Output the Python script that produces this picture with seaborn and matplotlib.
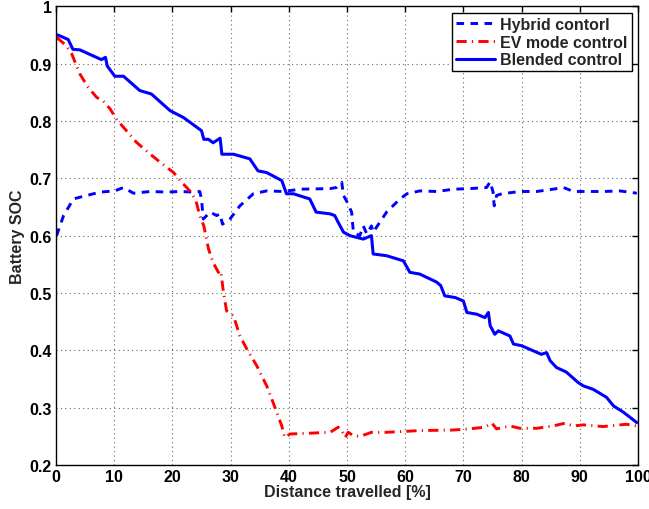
import numpy as np
import pandas as pd
import matplotlib
matplotlib.use("Agg")
import matplotlib.pyplot as plt
import seaborn as sns

# Blended control (solid blue)
blended_x = [0.3, 2.1, 2.9, 4.1, 7.8, 8.5, 8.8, 10.1, 11.6, 14.4, 16.4, 19.6, 21.9, 24.2,
             25.0, 25.4, 26.2, 27.0, 28.2, 28.5, 30.5, 33.3, 34.7, 36.2, 38.8, 39.6, 40.8,
             43.6, 44.7, 47.1, 47.9, 48.5, 49.4, 50.5, 52.8, 54.2, 54.5, 56.8, 59.7, 60.8,
             62.5, 65.4, 66.1, 66.8, 68.6, 70.0, 70.6, 72.3, 73.7, 74.3, 74.6, 75.4, 76.0,
             78.0, 78.6, 80.0, 83.4, 84.3, 84.9, 86.0, 87.7, 89.7, 90.6, 92.3, 94.6, 95.8,
             97.5, 99.8]
blended_y = [0.950, 0.942, 0.925, 0.924, 0.907, 0.911, 0.896, 0.878, 0.878, 0.853, 0.847,
             0.818, 0.806, 0.789, 0.783, 0.768, 0.768, 0.762, 0.770, 0.742, 0.742, 0.734,
             0.713, 0.710, 0.696, 0.673, 0.673, 0.664, 0.641, 0.638, 0.635, 0.623, 0.606,
             0.600, 0.594, 0.600, 0.568, 0.565, 0.556, 0.536, 0.533, 0.519, 0.513, 0.495,
             0.492, 0.486, 0.466, 0.463, 0.457, 0.466, 0.443, 0.428, 0.434, 0.425, 0.411,
             0.408, 0.393, 0.396, 0.382, 0.370, 0.362, 0.344, 0.338, 0.332, 0.318, 0.303,
             0.292, 0.274]

# Hybrid control (dashed blue)
hybrid_x = [0.1, 1.3, 3.0, 4.1, 7.6, 10.1, 11.6, 13.3, 16.2, 19.0, 21.3, 23.6, 24.7, 25.0,
            25.3, 26.5, 27.6, 28.2, 28.6, 29.9, 31.6, 33.9, 36.2, 39.1, 41.9, 47.1, 48.2,
            49.1, 49.4, 49.9, 50.8, 51.1, 52.2, 52.8, 53.4, 54.2, 54.5, 56.8, 59.1, 60.3,
            62.5, 65.4, 68.3, 71.1, 74.0, 74.6, 75.1, 75.3, 75.7, 76.6, 79.7, 82.6, 85.4,
            87.2, 88.9, 91.2, 94.0, 96.9, 99.8]
hybrid_y = [0.600, 0.635, 0.664, 0.667, 0.676, 0.678, 0.684, 0.674, 0.677, 0.676, 0.677,
            0.676, 0.677, 0.664, 0.629, 0.641, 0.635, 0.638, 0.620, 0.629, 0.652, 0.673,
            0.678, 0.677, 0.681, 0.682, 0.684, 0.693, 0.670, 0.661, 0.641, 0.606, 0.600,
            0.617, 0.603, 0.617, 0.606, 0.641, 0.664, 0.673, 0.678, 0.677, 0.681, 0.682,
            0.684, 0.694, 0.676, 0.652, 0.670, 0.673, 0.677, 0.677, 0.681, 0.684, 0.677,
            0.677, 0.677, 0.678, 0.674]

# EV mode control (dash-dot red)
ev_x = [0.1, 1.8, 2.7, 4.1, 5.5, 7.0, 8.1, 9.3, 10.4, 12.1, 13.8, 16.2, 17.9, 20.2, 21.6,
        23.0, 23.9, 24.2, 24.7, 25.4, 26.2, 27.0, 27.9, 28.3, 28.7, 29.3, 30.5, 31.6,
        32.8, 34.5, 36.2, 37.3, 38.8, 39.3, 40.2, 44.8, 47.1, 48.5, 49.1, 49.7, 50.2,
        51.1, 52.2, 53.4, 54.2, 56.8, 62.5, 68.3, 71.1, 73.7, 74.9, 75.7, 78.0, 79.7,
        82.6, 85.4, 87.5, 88.9, 90.6, 94.0, 98.0, 99.8]
ev_y = [0.946, 0.931, 0.917, 0.882, 0.859, 0.841, 0.835, 0.821, 0.803, 0.783, 0.763, 0.742,
        0.728, 0.710, 0.693, 0.678, 0.664, 0.655, 0.635, 0.617, 0.577, 0.553, 0.536, 0.539,
        0.507, 0.469, 0.460, 0.425, 0.402, 0.373, 0.338, 0.309, 0.268, 0.248, 0.254, 0.256,
        0.257, 0.266, 0.260, 0.248, 0.257, 0.251, 0.250, 0.254, 0.257, 0.257, 0.260, 0.261,
        0.263, 0.266, 0.273, 0.263, 0.268, 0.264, 0.264, 0.268, 0.273, 0.268, 0.270, 0.267,
        0.271, 0.268]

x_ticks = [0, 10, 20, 30, 40, 50, 60, 70, 80, 90, 100]
y_ticks = [0.2, 0.3, 0.4, 0.5, 0.6, 0.7, 0.8, 0.9, 1]

sns.set_style("white")
plt.rcParams['font.family'] = ['Liberation Sans', 'DejaVu Sans']
plt.rcParams['font.weight'] = 'bold'

fs = 11.5
fig = plt.figure(figsize=(6.49, 5.10), dpi=100)
ax = fig.add_axes([0.0863, 0.0863, 0.8967, 0.8994])

sns.lineplot(x=hybrid_x, y=hybrid_y, ax=ax, sort=False, color='#0000ff', lw=2.1,
             linestyle=(0, (2.6, 2.2)), label='Hybrid contorl')
sns.lineplot(x=ev_x, y=ev_y, ax=ax, sort=False, color='#ff0000', lw=2.1,
             linestyle=(0, (3.5, 1.8, 0.4, 1.8)), label='EV mode control')
sns.lineplot(x=blended_x, y=blended_y, ax=ax, sort=False, color='#0000ff', lw=2.2,
             linestyle='-', label='Blended control')

ax.set_xlim(0, 100)
ax.set_ylim(0.2, 1)
ax.set_xticks(x_ticks)
ax.set_yticks(y_ticks)
ax.set_xticklabels([str(t) for t in x_ticks])
ax.set_yticklabels([f"{t:g}" for t in y_ticks])
ax.grid(True, linestyle=(0, (1, 3)), color='#666666', linewidth=0.8)
ax.tick_params(direction='in', length=4, width=1, top=True, right=True,
               labelsize=fs, colors='black', pad=3)
for lbl in ax.get_xticklabels() + ax.get_yticklabels():
    lbl.set_fontweight('bold')
for sp in ax.spines.values():
    sp.set_color('black')
    sp.set_linewidth(1)

ax.set_xlabel('Distance travelled [%]', fontsize=fs, fontweight='bold', labelpad=0)
ax.set_ylabel('Battery SOC', fontsize=fs, fontweight='bold', labelpad=3)

leg = ax.legend(loc='upper right', fontsize=fs, frameon=True, fancybox=False,
                edgecolor='black', framealpha=1, handlelength=2.45, borderaxespad=0.4,
                borderpad=0.25, labelspacing=0.18, handletextpad=0.3)
leg.get_frame().set_linewidth(1)
for t in leg.get_texts():
    t.set_fontweight('bold')

fig.savefig('out.png', dpi=100)
